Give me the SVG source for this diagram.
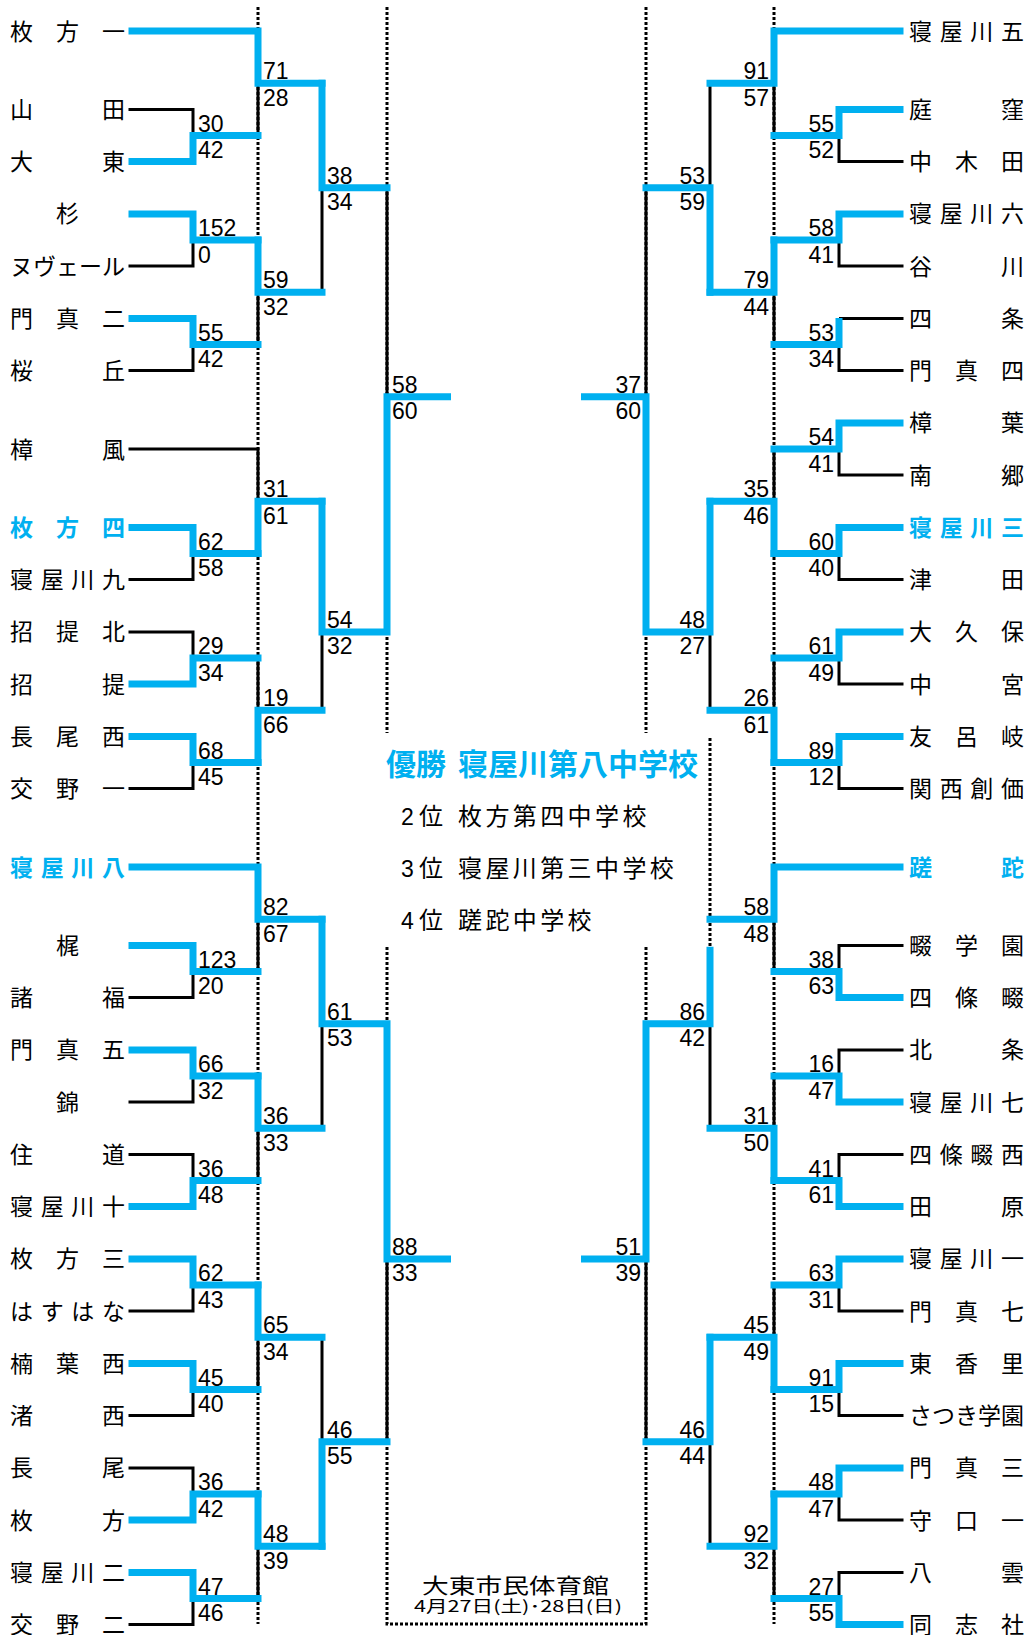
<svg xmlns="http://www.w3.org/2000/svg" width="1034" height="1635" viewBox="0 0 1034 1635">
<style>
.d{fill:none;stroke:#000;stroke-width:3;stroke-dasharray:3 2}
.l{fill:none;stroke:#000;stroke-width:3}
.w{fill:none;stroke:#00B0F0;stroke-width:7;stroke-linecap:square;stroke-linejoin:miter}
.n{font-family:"Noto Sans CJK JP","Noto Sans CJK SC",sans-serif;font-size:23px;fill:#000}
.nb{fill:#00B0F0;font-weight:700}
.s{font-family:"Liberation Sans",Arial,sans-serif;font-size:23px;fill:#000}
.e{text-anchor:end}
.c{font-family:"Noto Sans CJK JP","Noto Sans CJK SC",sans-serif;fill:#000}
</style>
<rect width="1034" height="1635" fill="#fff"/>
<g id="connectors">
<path class="d" d="M258,7V1624M774,7V1624M387,7V733M646,7V733M387,947V1624H646V947M710,738V947"/>
<path class="l" d="M128.5,109.4H193V135.5M128.5,266.1H193V240M128.5,370.6H193V344.5M128.5,579.6H193V553.5M128.5,631.9H193V658M128.5,788.6H193V762.5M128.5,997.6H193V971.5M128.5,1102.1H193V1076M128.5,1154.4H193V1180.5M128.5,1311.1H193V1285M128.5,1415.6H193V1389.5M128.5,1467.9H193V1494M128.5,1624.6H193V1598.5"/>
<path class="l" d="M258,135.5V83.25M258,344.5V292.25M128.5,449H258V501.25M258,658V710.25M258,971.5V919.25M258,1180.5V1128.25M258,1389.5V1337.25M258,1598.5V1546.25"/>
<path class="l" d="M322,292.25V187.75M322,710.25V631.9M322,1128.25V1023.75M322,1337.25V1441.75M387,187.75V396.75M387,1441.75V1258.9"/>
<path class="l" d="M903.5,161.6H839V135.5M903.5,266.1H839V240M903.5,318.4H839M903.5,370.6H839V344.5M903.5,475.1H839V449M903.5,579.6H839V553.5M903.5,684.1H839V658M903.5,788.6H839V762.5M903.5,945.4H839V971.5M903.5,1049.9H839V1076M903.5,1154.4H839V1180.5M903.5,1311.1H839V1285M903.5,1415.6H839V1389.5M903.5,1520.1H839V1494M903.5,1572.4H839V1598.5"/>
<path class="l" d="M774,135.5V83.25M774,344.5V292.25M774,449V501.25M774,658V710.25M774,971.5V919.25M774,1076V1128.25M774,1285V1337.25M774,1598.5V1546.25"/>
<path class="l" d="M710,83.25V187.75M710,710.25V631.9M710,1128.25V1023.75M710,1546.25V1441.75M646,187.75V396.75M646,1441.75V1258.9"/>
<path class="w" d="M132,161.6H193V135.5H258M132,213.9H193V240H258M132,318.4H193V344.5H258M132,527.4H193V553.5H258M132,684.1H193V658H258M132,736.4H193V762.5H258M132,945.4H193V971.5H258M132,1049.9H193V1076H258M132,1206.6H193V1180.5H258M132,1258.9H193V1285H258M132,1363.4H193V1389.5H258M132,1520.1H193V1494H258M132,1572.4H193V1598.5H258"/>
<path class="w" d="M132,31H258V83.25H322M258,240V292.25H322M258,553.5V501.25H322M258,762.5V710.25H322M132,867H258V919.25H322M258,1076V1128.25H322M258,1285V1337.25H322M258,1494V1546.25H322"/>
<path class="w" d="M322,83.25V187.75H387M322,501.25V631.9H387M322,919.25V1023.75H387M322,1546.25V1441.75H387M387,631.9V396.75H447.5M387,1023.75V1258.9H447.5"/>
<path class="w" d="M900,109.4H839V135.5H774M900,213.9H839V240H774M839,321.5V344.5H774M900,422.9H839V449H774M900,527.4H839V553.5H774M900,631.9H839V658H774M900,736.4H839V762.5H774M900,997.6H839V971.5H774M900,1102.1H839V1076H774M900,1206.6H839V1180.5H774M900,1258.9H839V1285H774M900,1363.4H839V1389.5H774M900,1467.9H839V1494H774M900,1624.6H839V1598.5H774"/>
<path class="w" d="M900,31H774V83.25H710M774,240V292.25H710M774,553.5V501.25H710M774,762.5V710.25H710M900,867H774V919.25H710M774,1180.5V1128.25H710M774,1389.5V1337.25H710M774,1494V1546.25H710"/>
<path class="w" d="M710,292.25V187.75H646M710,501.25V631.9H646M710,950.2V1023.75H646M710,1337.25V1441.75H646M646,631.9V396.75H584.5M646,1023.75V1258.9H584.5"/>
</g>
<g id="scores" class="s">
<text x="198" y="131.5">30</text><text x="198" y="158">42</text>
<text x="198" y="236">152</text><text x="198" y="262.5">0</text>
<text x="198" y="340.5">55</text><text x="198" y="367">42</text>
<text x="198" y="549.5">62</text><text x="198" y="576">58</text>
<text x="198" y="654">29</text><text x="198" y="680.5">34</text>
<text x="198" y="758.5">68</text><text x="198" y="785">45</text>
<text x="198" y="967.5">123</text><text x="198" y="994">20</text>
<text x="198" y="1072">66</text><text x="198" y="1098.5">32</text>
<text x="198" y="1176.5">36</text><text x="198" y="1203">48</text>
<text x="198" y="1281">62</text><text x="198" y="1307.5">43</text>
<text x="198" y="1385.5">45</text><text x="198" y="1412">40</text>
<text x="198" y="1490">36</text><text x="198" y="1516.5">42</text>
<text x="198" y="1594.5">47</text><text x="198" y="1621">46</text>
<text x="263" y="79.25">71</text><text x="263" y="105.75">28</text>
<text x="263" y="288.25">59</text><text x="263" y="314.75">32</text>
<text x="263" y="497.25">31</text><text x="263" y="523.75">61</text>
<text x="263" y="706.25">19</text><text x="263" y="732.75">66</text>
<text x="263" y="915.25">82</text><text x="263" y="941.75">67</text>
<text x="263" y="1124.25">36</text><text x="263" y="1150.75">33</text>
<text x="263" y="1333.25">65</text><text x="263" y="1359.75">34</text>
<text x="263" y="1542.25">48</text><text x="263" y="1568.75">39</text>
<text x="327" y="183.75">38</text><text x="327" y="210.25">34</text>
<text x="327" y="627.9">54</text><text x="327" y="654.4">32</text>
<text x="327" y="1019.75">61</text><text x="327" y="1046.25">53</text>
<text x="327" y="1437.75">46</text><text x="327" y="1464.25">55</text>
<text x="392" y="392.75">58</text><text x="392" y="419.25">60</text>
<text x="392" y="1254.9">88</text><text x="392" y="1281.4">33</text>
<g class="e">
<text x="834" y="131.5">55</text><text x="834" y="158">52</text>
<text x="834" y="236">58</text><text x="834" y="262.5">41</text>
<text x="834" y="340.5">53</text><text x="834" y="367">34</text>
<text x="834" y="445">54</text><text x="834" y="471.5">41</text>
<text x="834" y="549.5">60</text><text x="834" y="576">40</text>
<text x="834" y="654">61</text><text x="834" y="680.5">49</text>
<text x="834" y="758.5">89</text><text x="834" y="785">12</text>
<text x="834" y="967.5">38</text><text x="834" y="994">63</text>
<text x="834" y="1072">16</text><text x="834" y="1098.5">47</text>
<text x="834" y="1176.5">41</text><text x="834" y="1203">61</text>
<text x="834" y="1281">63</text><text x="834" y="1307.5">31</text>
<text x="834" y="1385.5">91</text><text x="834" y="1412">15</text>
<text x="834" y="1490">48</text><text x="834" y="1516.5">47</text>
<text x="834" y="1594.5">27</text><text x="834" y="1621">55</text>
<text x="769" y="79.25">91</text><text x="769" y="105.75">57</text>
<text x="769" y="288.25">79</text><text x="769" y="314.75">44</text>
<text x="769" y="497.25">35</text><text x="769" y="523.75">46</text>
<text x="769" y="706.25">26</text><text x="769" y="732.75">61</text>
<text x="769" y="915.25">58</text><text x="769" y="941.75">48</text>
<text x="769" y="1124.25">31</text><text x="769" y="1150.75">50</text>
<text x="769" y="1333.25">45</text><text x="769" y="1359.75">49</text>
<text x="769" y="1542.25">92</text><text x="769" y="1568.75">32</text>
<text x="705" y="183.75">53</text><text x="705" y="210.25">59</text>
<text x="705" y="627.9">48</text><text x="705" y="654.4">27</text>
<text x="705" y="1019.75">86</text><text x="705" y="1046.25">42</text>
<text x="705" y="1437.75">46</text><text x="705" y="1464.25">44</text>
<text x="641" y="392.75">37</text><text x="641" y="419.25">60</text>
<text x="641" y="1254.9">51</text><text x="641" y="1281.4">39</text>
</g>
</g>
<g class="n">
<g id="L-hirakata1"><text x="10 56 102" y="39.5">枚方一</text></g>
<g id="L-yamada"><text x="10 102" y="117.9">山田</text></g>
<g id="L-daito"><text x="10 102" y="170.1">大東</text></g>
<g id="L-sugi"><text x="56" y="222.4">杉</text></g>
<g id="L-nouvelle"><text x="10 33 56 79 102" y="274.6">ヌヴェール</text></g>
<g id="L-kadoma2"><text x="10 56 102" y="326.9">門真二</text></g>
<g id="L-sakuragaoka"><text x="10 102" y="379.1">桜丘</text></g>
<g id="L-shofu"><text x="10 102" y="457.5">樟風</text></g>
<g id="L-hirakata4"><text class="nb" x="10 56 102" y="535.9">枚方四</text></g>
<g id="L-neyagawa9"><text x="10 40.7 71.3 102" y="588.1">寝屋川九</text></g>
<g id="L-shodaikita"><text x="10 56 102" y="640.4">招提北</text></g>
<g id="L-shodai"><text x="10 102" y="692.6">招提</text></g>
<g id="L-nagaonishi"><text x="10 56 102" y="744.9">長尾西</text></g>
<g id="L-katano1"><text x="10 56 102" y="797.1">交野一</text></g>
<g id="L-neyagawa8"><text class="nb" x="10 40.7 71.3 102" y="875.5">寝屋川八</text></g>
<g id="L-kaji"><text x="56" y="953.9">梶</text></g>
<g id="L-morofuku"><text x="10 102" y="1006.1">諸福</text></g>
<g id="L-kadoma5"><text x="10 56 102" y="1058.4">門真五</text></g>
<g id="L-nishiki"><text x="56" y="1110.6">錦</text></g>
<g id="L-suminodo"><text x="10 102" y="1162.9">住道</text></g>
<g id="L-neyagawa10"><text x="10 40.7 71.3 102" y="1215.1">寝屋川十</text></g>
<g id="L-hirakata3"><text x="10 56 102" y="1267.4">枚方三</text></g>
<g id="L-hasuhana"><text x="10 40.7 71.3 102" y="1319.6">はすはな</text></g>
<g id="L-kuzuhanishi"><text x="10 56 102" y="1371.9">楠葉西</text></g>
<g id="L-nagisanishi"><text x="10 102" y="1424.1">渚西</text></g>
<g id="L-nagao"><text x="10 102" y="1476.4">長尾</text></g>
<g id="L-hirakata"><text x="10 102" y="1528.6">枚方</text></g>
<g id="L-neyagawa2"><text x="10 40.7 71.3 102" y="1580.9">寝屋川二</text></g>
<g id="L-katano2"><text x="10 56 102" y="1633.1">交野二</text></g>
<g id="R-neyagawa5"><text x="909 939.7 970.3 1001" y="39.5">寝屋川五</text></g>
<g id="R-niwakubo"><text x="909 1001" y="117.9">庭窪</text></g>
<g id="R-nakakida"><text x="909 955 1001" y="170.1">中木田</text></g>
<g id="R-neyagawa6"><text x="909 939.7 970.3 1001" y="222.4">寝屋川六</text></g>
<g id="R-tanigawa"><text x="909 1001" y="274.6">谷川</text></g>
<g id="R-shijo"><text x="909 1001" y="326.9">四条</text></g>
<g id="R-kadoma4"><text x="909 955 1001" y="379.1">門真四</text></g>
<g id="R-kuzuha"><text x="909 1001" y="431.4">樟葉</text></g>
<g id="R-nango"><text x="909 1001" y="483.6">南郷</text></g>
<g id="R-neyagawa3"><text class="nb" x="909 939.7 970.3 1001" y="535.9">寝屋川三</text></g>
<g id="R-tsuda"><text x="909 1001" y="588.1">津田</text></g>
<g id="R-okubo"><text x="909 955 1001" y="640.4">大久保</text></g>
<g id="R-nakamiya"><text x="909 1001" y="692.6">中宮</text></g>
<g id="R-tomorogi"><text x="909 955 1001" y="744.9">友呂岐</text></g>
<g id="R-kansaisoka"><text x="909 939.7 970.3 1001" y="797.1">関西創価</text></g>
<g id="R-satsuta"><text class="nb" x="909 1001" y="875.5">蹉跎</text></g>
<g id="R-nawategakuen"><text x="909 955 1001" y="953.9">畷学園</text></g>
<g id="R-shijonawate"><text x="909 955 1001" y="1006.1">四條畷</text></g>
<g id="R-hojo"><text x="909 1001" y="1058.4">北条</text></g>
<g id="R-neyagawa7"><text x="909 939.7 970.3 1001" y="1110.6">寝屋川七</text></g>
<g id="R-shijonawatenishi"><text x="909 939.7 970.3 1001" y="1162.9">四條畷西</text></g>
<g id="R-tawara"><text x="909 1001" y="1215.1">田原</text></g>
<g id="R-neyagawa1"><text x="909 939.7 970.3 1001" y="1267.4">寝屋川一</text></g>
<g id="R-kadoma7"><text x="909 955 1001" y="1319.6">門真七</text></g>
<g id="R-korien"><text x="909 955 1001" y="1371.9">東香里</text></g>
<g id="R-satsuki"><text x="909 932 955 978 1001" y="1424.1">さつき学園</text></g>
<g id="R-kadoma3"><text x="909 955 1001" y="1476.4">門真三</text></g>
<g id="R-moriguchi1"><text x="909 955 1001" y="1528.6">守口一</text></g>
<g id="R-yagumo"><text x="909 1001" y="1580.9">八雲</text></g>
<g id="R-doshisha"><text x="909 955 1001" y="1633.1">同志社</text></g>
</g>
<g id="results">
<text class="c" x="386" y="775" font-size="30" font-weight="700" style="fill:#00B0F0">優勝</text>
<text class="c" x="458" y="775" font-size="30" font-weight="700" style="fill:#00B0F0">寝屋川第八中学校</text>
<text class="s" x="401" y="825" font-size="25">2</text><text class="c" x="419" y="825" font-size="24">位</text>
<text class="c" x="458" y="825" font-size="24" letter-spacing="3.4">枚方第四中学校</text>
<text class="s" x="401" y="877" font-size="25">3</text><text class="c" x="419" y="877" font-size="24">位</text>
<text class="c" x="458" y="877" font-size="24" letter-spacing="3.4">寝屋川第三中学校</text>
<text class="s" x="401" y="929" font-size="25">4</text><text class="c" x="419" y="929" font-size="24">位</text>
<text class="c" x="458" y="929" font-size="24" letter-spacing="3.4">蹉跎中学校</text>
</g>
<g id="venue">
<text class="c" x="422" y="1592.5" font-size="21" textLength="187" lengthAdjust="spacingAndGlyphs">大東市民体育館</text>
<text class="c" x="414" y="1612" font-size="16" textLength="208" lengthAdjust="spacingAndGlyphs">4月27日(土)･28日(日)</text>
</g>
</svg>
